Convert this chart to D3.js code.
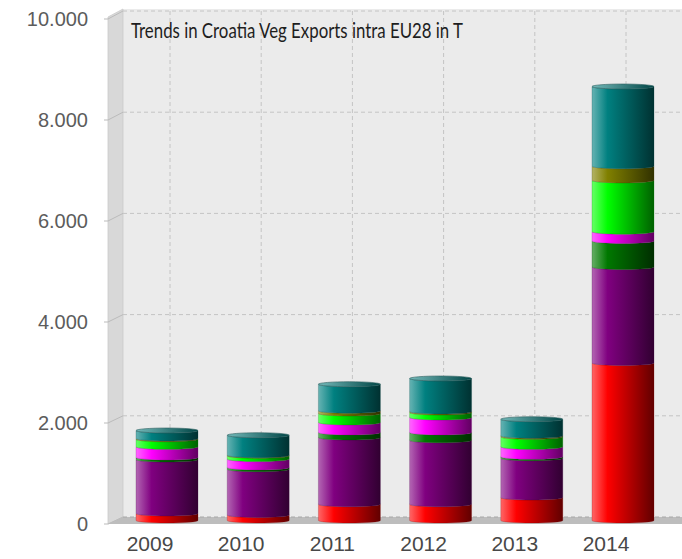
<!DOCTYPE html>
<html>
<head>
<meta charset="utf-8">
<script src="https://cdn.jsdelivr.net/npm/d3@7"></script>
<style>
  body { margin: 0; background: #fff; }
  svg { display: block; }
</style>
</head>
<body>
<div id="chart"></div>
<script>
// categories
var years = ["2009", "2010", "2011", "2012", "2013", "2014"];

// series values (tonnes), stacked bottom to top
var redSeries     = [140, 110, 323, 323, 455, 3120];
var purpleSeries  = [1068, 906, 1321, 1267, 779, 1900];
var greenSeries   = [40, 35, 100, 153, 27, 515];
var magentaSeries = [211, 165, 198, 297, 198, 185];
var limeSeries    = [150, 67, 178, 99, 198, 1015];
var oliveSeries   = [15, 10, 53, 20, 20, 280];
var tealSeries    = [158, 396, 526, 653, 329, 1579];

var yTicks = [0, 2000, 4000, 6000, 8000, 10000];
var title = "Trends in Croatia Veg Exports intra EU28 in T";

var seriesKeys = ["red", "purple", "green", "magenta", "lime", "olive", "teal"];
var seriesColors = ["#ff0000", "#800080", "#007800", "#ff00ff", "#00ff00", "#808000", "#008080"];
var seriesValues = [redSeries, purpleSeries, greenSeries, magentaSeries, limeSeries, oliveSeries, tealSeries];

function init() {
    var w = 682, h = 559;

    // front / back of the 3d box
    var frontX = 108, backX = 123, rightX = 682;

    var table = years.map(function (y, i) {
        var row = { year: y };
        seriesKeys.forEach(function (k, j) { row[k] = seriesValues[j][i]; });
        return row;
    });

    var stacked = d3.stack().keys(seriesKeys)(table);

    var xScale = d3.scaleBand()
        .domain(years)
        .range([121.4, 668.6]);

    var yScale = d3.scaleLinear().domain([0, 10000]).range([523, 18]);   // front edge of bars
    var yBack = d3.scaleLinear().domain([0, 10000]).range([517, 11]);    // back wall

    var fmt = d3.formatLocale({ decimal: ",", thousands: ".", grouping: [3], currency: ["", ""] }).format(",d");

    var svg = d3.select("#chart")
        .append("svg")
        .attr("width", w)
        .attr("height", h);

    var defs = svg.append("defs");
    seriesColors.forEach(function (c, i) {
        var g = defs.append("linearGradient")
            .attr("id", "grad" + i)
            .attr("x1", "0%").attr("x2", "100%")
            .attr("y1", "0%").attr("y2", "0%");
        g.append("stop").attr("offset", "0%").attr("stop-color", d3.interpolateRgb(c, "#fff")(0.4));
        g.append("stop").attr("offset", "25%").attr("stop-color", c);
        g.append("stop").attr("offset", "100%").attr("stop-color", d3.interpolateRgb(c, "#000")(0.62));

        var t = defs.append("linearGradient")
            .attr("id", "top" + i)
            .attr("x1", "0%").attr("x2", "100%");
        t.append("stop").attr("offset", "0%").attr("stop-color", d3.interpolateRgb(c, "#fff")(0.45));
        t.append("stop").attr("offset", "100%").attr("stop-color", d3.interpolateRgb(c, "#000")(0.45));
    });

    // back wall
    svg.append("rect")
        .attr("x", backX)
        .attr("y", yBack(10000) - 2)
        .attr("width", rightX - backX)
        .attr("height", yBack(0) - yBack(10000) + 2)
        .attr("fill", "#ebebeb");

    // side wall
    svg.append("path")
        .attr("d", "M" + frontX + "," + (yScale(0) + 1) +
                   "L" + frontX + "," + (yScale(10000) - 1) +
                   "L" + backX + "," + (yBack(10000) - 2) +
                   "L" + backX + "," + yBack(0) + "Z")
        .attr("fill", "#d8d8d8")
        .attr("stroke", "#cacaca")
        .attr("stroke-width", 0.8);

    // floor
    svg.append("path")
        .attr("d", "M" + frontX + "," + (yScale(0) + 1) +
                   "L" + rightX + "," + (yScale(0) + 1) +
                   "L" + rightX + "," + yBack(0) +
                   "L" + backX + "," + yBack(0) + "Z")
        .attr("fill", "#bdbdbd");

    // horizontal grid on the back wall
    svg.selectAll(".hgrid")
        .data(yTicks)
        .enter().append("line")
        .attr("class", "hgrid")
        .attr("x1", backX).attr("x2", rightX)
        .attr("y1", function (d) { return yBack(d); })
        .attr("y2", function (d) { return yBack(d); })
        .attr("stroke", function (d) { return d === 0 ? "#a8a8a8" : "#c4c4c4"; })
        .attr("stroke-dasharray", "4,3");

    // ticks across side wall
    svg.selectAll(".sgrid")
        .data(yTicks)
        .enter().append("path")
        .attr("class", "sgrid")
        .attr("d", function (d) {
            return "M" + (frontX - 4) + "," + (yScale(d) + 1) + "L" + frontX + "," + (yScale(d) + 1) +
                   "L" + backX + "," + yBack(d);
        })
        .attr("fill", "none")
        .attr("stroke", "#bbb");

    // vertical grid on back wall
    svg.selectAll(".vgrid")
        .data(years)
        .enter().append("line")
        .attr("class", "vgrid")
        .attr("x1", function (d) { return xScale(d) + xScale.bandwidth() / 2 + 3; })
        .attr("x2", function (d) { return xScale(d) + xScale.bandwidth() / 2 + 3; })
        .attr("y1", yBack(10000))
        .attr("y2", yBack(0))
        .attr("stroke", "#c4c4c4")
        .attr("stroke-dasharray", "4,3");

    // y labels
    svg.selectAll(".ylab")
        .data(yTicks)
        .enter().append("text")
        .attr("class", "ylab")
        .attr("x", 88)
        .attr("y", function (d) { return yScale(d) + 1; })
        .attr("dy", "0.36em")
        .attr("text-anchor", "end")
        .attr("font-family", "Liberation Sans, Arial, sans-serif")
        .attr("font-size", 20)
        .attr("fill", "#5c5c5c")
        .text(function (d) { return fmt(d); });

    // x labels
    svg.selectAll(".xlab")
        .data(years)
        .enter().append("text")
        .attr("class", "xlab")
        .attr("x", function (d) { return xScale(d) + xScale.bandwidth() / 2 - 17; })
        .attr("y", 551)
        .attr("text-anchor", "middle")
        .attr("font-family", "Liberation Sans, Arial, sans-serif")
        .attr("font-size", 21)
        .attr("fill", "#484848")
        .text(function (d) { return d; });

    // cylinders
    var barW = 62, ry = 2.5;
    function segPath(d) {
        var cx = xScale(d.data.year) + xScale.bandwidth() / 2;
        var x0 = cx - barW / 2, x1 = cx + barW / 2;
        var cb = yScale(d[0]) - ry, ct = yScale(d[1]) - ry;
        return "M" + x0 + "," + ct + "L" + x0 + "," + cb +
               "A" + (barW / 2) + "," + ry + " 0 0 0 " + x1 + "," + cb +
               "L" + x1 + "," + ct +
               "A" + (barW / 2) + "," + ry + " 0 0 1 " + x0 + "," + ct + "Z";
    }

    var layers = svg.selectAll(".layer")
        .data(stacked)
        .enter().append("g")
        .attr("class", "layer");

    layers.selectAll("path")
        .data(function (d) { return d; })
        .enter().append("path")
        .attr("d", segPath)
        .attr("fill", function () { return "url(#grad" + d3.select(this.parentNode).datum().index + ")"; })
        .attr("stroke", function () { return d3.interpolateRgb(seriesColors[d3.select(this.parentNode).datum().index], "#000")(0.5); })
        .attr("stroke-width", 0.4)
        .attr("stroke-opacity", 0.6);

    // top faces
    var topLayer = stacked[stacked.length - 1];
    svg.selectAll(".topface")
        .data(topLayer)
        .enter().append("ellipse")
        .attr("class", "topface")
        .attr("cx", function (d) { return xScale(d.data.year) + xScale.bandwidth() / 2; })
        .attr("cy", function (d) { return yScale(d[1]) - ry; })
        .attr("rx", barW / 2)
        .attr("ry", ry)
        .attr("fill", "url(#top" + (stacked.length - 1) + ")")
        .attr("stroke", "#2a5e5e")
        .attr("stroke-width", 0.6);

    // title (narrow humanist face squeezed to the original width)
    svg.append("text")
        .attr("x", 131)
        .attr("y", 38)
        .attr("font-family", "Lato, Open Sans, sans-serif")
        .attr("font-size", 21)
        .attr("textLength", 332)
        .attr("lengthAdjust", "spacingAndGlyphs")
        .attr("fill", "#1e1e1e")
        .text(title);
}

window.onload = init;
</script>
</body>
</html>
